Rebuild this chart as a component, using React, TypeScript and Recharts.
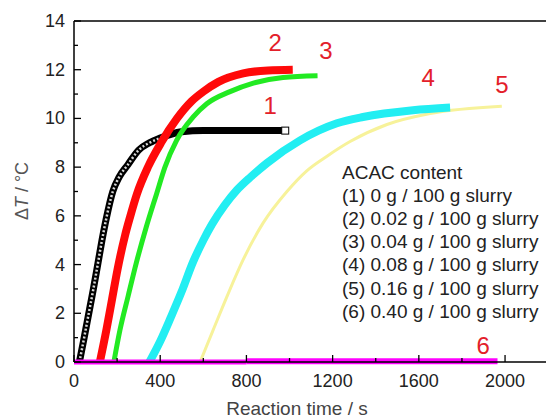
import { Line, LineChart, ReferenceDot, ReferenceLine, XAxis, YAxis } from "recharts";

const FONT = "'Liberation Sans', Arial, sans-serif";
const PLOT_LEFT = 74;
const PLOT_BOTTOM = 362;

// (1) 0 g / 100 g slurry
const time1 = [25, 45, 60, 75, 90, 110, 130, 150, 180, 210, 250, 300, 350, 400, 450, 500, 600, 800, 980];
const dT1 = [0, 0.9, 1.6, 2.3, 3.0, 4.0, 5.0, 5.9, 7.0, 7.6, 8.1, 8.7, 9.0, 9.2, 9.35, 9.45, 9.5, 9.5, 9.5];
// (2) 0.02 g
const time2 = [120, 150, 177, 202, 237, 260, 292, 343, 404, 478, 545, 600, 670, 785, 900, 1015];
const dT2 = [0, 1.3, 2.6, 3.8, 5.2, 5.95, 6.9, 8.0, 9.0, 10.0, 10.7, 11.1, 11.5, 11.85, 11.97, 12.0];
// (3) 0.04 g
const time3 = [185, 213, 251, 290, 334, 383, 422, 476, 552, 616, 724, 832, 970, 1130];
const dT3 = [0, 1.3, 2.7, 4.1, 5.5, 6.9, 8.0, 9.1, 10.05, 10.6, 11.1, 11.45, 11.68, 11.75];
// (4) 0.08 g
const time4 = [350, 400, 450, 500, 552, 600, 640, 700, 756, 820, 896, 1049, 1220, 1341, 1573, 1745];
const dT4 = [0, 0.85, 1.85, 2.9, 4.1, 5.0, 5.65, 6.45, 7.06, 7.6, 8.17, 9.1, 9.8, 10.06, 10.34, 10.45];
// (5) 0.16 g
const time5 = [585, 645, 715, 785, 877, 988, 1080, 1174, 1281, 1452, 1652, 1985];
const dT5 = [0, 1.3, 2.8, 4.2, 5.7, 7.0, 7.85, 8.45, 9.05, 9.75, 10.2, 10.5];
// (6) 0.40 g
const time6a = [0, 800];
const dT6a = [0, 0];
const time6b = [800, 1965];
const dT6b = [0.03, 0.03];

const xTicks = [0, 200, 400, 600, 800, 1000, 1200, 1400, 1600, 1800, 2000];
const yTicks = [0, 1, 2, 3, 4, 5, 6, 7, 8, 9, 10, 11, 12, 13, 14];

const curveLabels = ["1", "2", "3", "4", "5", "6"];
const curveLabelTime = [910, 933, 1169, 1643, 1986, 1898];
const curveLabelDT = [10.55, 13.1, 12.8, 11.7, 11.4, 0.66];

const legendLines = [
  "ACAC content",
  "(1) 0 g / 100 g slurry",
  "(2) 0.02 g / 100 g slurry",
  "(3) 0.04 g / 100 g slurry",
  "(4) 0.08 g / 100 g slurry",
  "(5) 0.16 g / 100 g slurry",
  "(6) 0.40 g / 100 g slurry",
];

const toPts = (ts: number[], vs: number[]) => ts.map((t, i) => ({ t, v: vs[i] }));

function YTick(props: any) {
  const { x, y, payload } = props;
  const major = payload.value % 2 === 0;
  return (
    <g>
      <line x1={PLOT_LEFT} x2={PLOT_LEFT + (major ? 7 : 4)} y1={y} y2={y} stroke="#000" strokeWidth={1.3} />
      {major && (
        <text x={x} y={y} textAnchor="end" dominantBaseline="central" fontSize={18} fill="#222" fontFamily={FONT}>
          {payload.value}
        </text>
      )}
    </g>
  );
}

function XTick(props: any) {
  const { x, payload } = props;
  const major = payload.value % 400 === 0;
  return (
    <g>
      <line x1={x} x2={x} y1={PLOT_BOTTOM} y2={PLOT_BOTTOM - (major ? 7 : 4)} stroke="#000" strokeWidth={1.3} />
      {major && (
        <text x={x} y={PLOT_BOTTOM + 19} textAnchor="middle" dominantBaseline="central" fontSize={18} fill="#222" fontFamily={FONT}>
          {payload.value}
        </text>
      )}
    </g>
  );
}

function EndSquare(props: any) {
  const { cx, cy, index } = props;
  if (index !== time1.length - 1) return <g key={index} />;
  return <rect key={index} x={cx - 3.5} y={cy - 3.5} width={7} height={7} fill="#fff" stroke="#000" strokeWidth={1} />;
}

export default function App() {
  return (
    <div style={{ position: "absolute", left: 0, top: 0, width: 546, height: 418, background: "#fff" }}>
      <LineChart width={546} height={418} margin={{ top: 21, right: 0, bottom: 0, left: 0 }}>
        <XAxis
          type="number"
          dataKey="t"
          domain={[0, 2190]}
          ticks={xTicks}
          interval={0}
          tick={<XTick />}
          tickLine={false}
          stroke="#000"
          strokeWidth={1.5}
          height={56}
          allowDuplicatedCategory={false}
        />
        <YAxis
          type="number"
          dataKey="v"
          domain={[0, 14]}
          ticks={yTicks}
          interval={0}
          tick={<YTick />}
          tickLine={false}
          tickSize={6}
          tickMargin={3}
          width={74}
          stroke="#000"
          strokeWidth={1.5}
        />
        <ReferenceLine y={14} stroke="#000" strokeWidth={1.5} />
        <Line data={toPts(time5, dT5)} dataKey="v" type="monotone" stroke="#f7f29a" strokeWidth={3} dot={false} isAnimationActive={false} />
        <Line data={toPts(time4, dT4)} dataKey="v" type="monotone" stroke="#22eef2" strokeWidth={8} dot={false} isAnimationActive={false} />
        <Line data={toPts(time1, dT1)} dataKey="v" type="monotone" stroke="#000" strokeWidth={7} dot={<EndSquare />} isAnimationActive={false} />
        <Line data={toPts(time1.slice(0, 15), dT1.slice(0, 15))} dataKey="v" type="monotone" stroke="#d8d8d8" strokeWidth={2.5} strokeDasharray="2 2" dot={false} isAnimationActive={false} />
        <Line data={toPts(time3, dT3)} dataKey="v" type="monotone" stroke="#22ea22" strokeWidth={5} dot={false} isAnimationActive={false} />
        <Line data={toPts(time2, dT2)} dataKey="v" type="monotone" stroke="#ff0a0a" strokeWidth={8} dot={false} isAnimationActive={false} />
        <Line data={toPts(time6a, dT6a)} dataKey="v" type="linear" stroke="#ff00ff" strokeWidth={5} dot={false} isAnimationActive={false} />
        <Line data={toPts(time6b, dT6b)} dataKey="v" type="linear" stroke="#ff00ff" strokeWidth={6} dot={false} isAnimationActive={false} />
        {curveLabels.map((lab, i) => (
          <ReferenceDot
            key={lab}
            x={curveLabelTime[i]}
            y={curveLabelDT[i]}
            r={0}
            fill="none"
            stroke="none"
            label={(p: any) => {
              const vb = p.viewBox;
              const cx = vb.x + (vb.width || 0) / 2;
              const cy = vb.y + (vb.height || 0) / 2;
              return (
                <text x={cx} y={cy} textAnchor="middle" dominantBaseline="central" fontSize={24} fill="#e3202a" fontFamily={FONT}>
                  {lab}
                </text>
              );
            }}
          />
        ))}
      </LineChart>
      <svg width={546} height={418} style={{ position: "absolute", left: 0, top: 0, pointerEvents: "none" }}>
        <text x={297} y={408} textAnchor="middle" dominantBaseline="central" fontSize={19} fill="#444" fontFamily={FONT}>
          Reaction time / s
        </text>
        <text
          x={22}
          y={191}
          transform="rotate(-90 22 191)"
          textAnchor="middle"
          dominantBaseline="central"
          fontSize={18}
          fill="#555"
          fontFamily={FONT}
        >
          Δ<tspan fontStyle="italic">T</tspan> / °C
        </text>
        {legendLines.map((line, i) => (
          <text key={line} x={342} y={172 + i * 23.2} dominantBaseline="central" fontSize={19} fill="#222" fontFamily={FONT}>
            {line}
          </text>
        ))}
      </svg>
    </div>
  );
}
